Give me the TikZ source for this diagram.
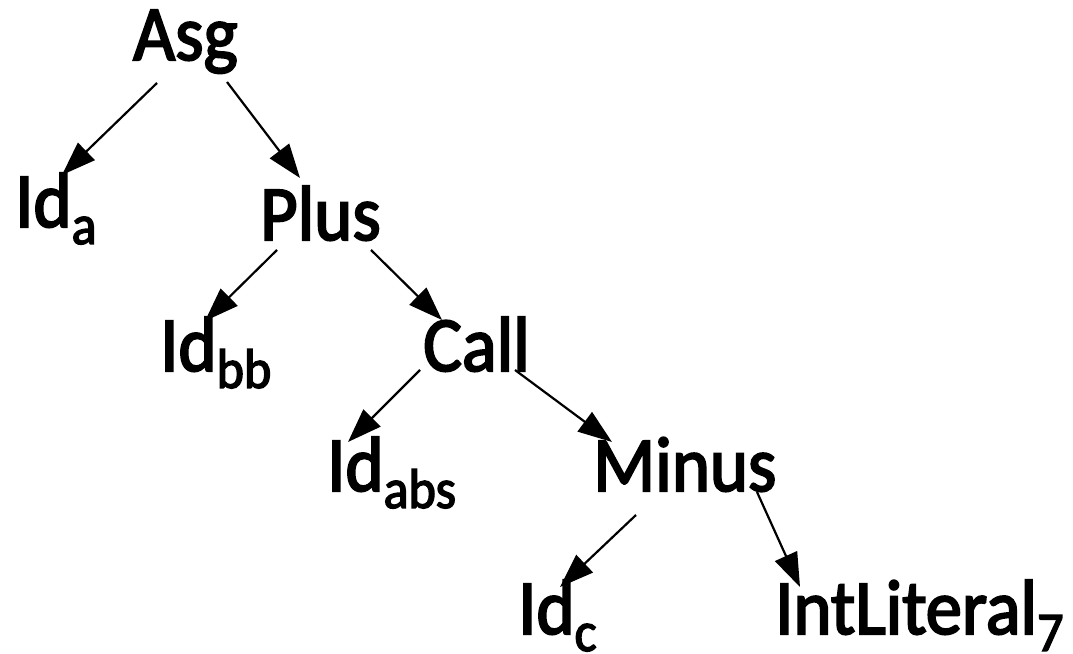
\documentclass[tikz,border=0pt]{standalone}
\usepackage{fontspec}
\newfontfamily\lblfont[FakeBold=2.6,FakeStretch=0.93]{Carlito}
\usetikzlibrary{arrows.meta}
\newcommand\tsub[1]{\raisebox{-17pt}{\fontsize{56}{56}\selectfont #1}}
\begin{document}
\begin{tikzpicture}[x=1pt,y=1pt,
  lbl/.style={anchor=base west, inner sep=0pt, font=\lblfont\fontsize{78}{78}\selectfont},
  arr/.style={line width=2.2pt, -{Triangle[length=34pt,width=24pt]}}]
\useasboundingbox (0,0) rectangle (1073,653);
\node[lbl] (asg) at (133,593) {Asg};
\node[lbl] (ida) at (15,426) {Id\tsub{a}};
\node[lbl] (plus) at (260,413) {Plus};
\node[lbl] (idbb) at (160,282) {Id\tsub{bb}};
\node[lbl] (call) at (423,282) {Call};
\node[lbl] (idabs) at (327,162) {Id\tsub{abs}};
\node[lbl] (minus) at (593,162) {Minus};
\node[lbl] (idc) at (518,19) {Id\tsub{c}};
\node[lbl] (intlit) at (775,19) {IntLiteral\tsub{7}};
\draw[arr] ([shift={(24,-23)}]asg.base west) -- ([shift={(47,52)}]ida.base west);
\draw[arr] ([shift={(94,-22)}]asg.base west) -- ([shift={(40,62)}]plus.base west);
\draw[arr] ([shift={(17,-10)}]plus.base west) -- ([shift={(45,50)}]idbb.base west);
\draw[arr] ([shift={(111,-10)}]plus.base west) -- ([shift={(19,51)}]call.base west);
\draw[arr] ([shift={(-3,1)}]call.base west) -- ([shift={(21,49)}]idabs.base west);
\draw[arr] ([shift={(92,1)}]call.base west) -- ([shift={(19,49)}]minus.base west);
\draw[arr] ([shift={(43,-24)}]minus.base west) -- ([shift={(42,47)}]idc.base west);
\draw[arr] ([shift={(164,-1)}]minus.base west) -- ([shift={(25,47)}]intlit.base west);
\end{tikzpicture}
\end{document}
